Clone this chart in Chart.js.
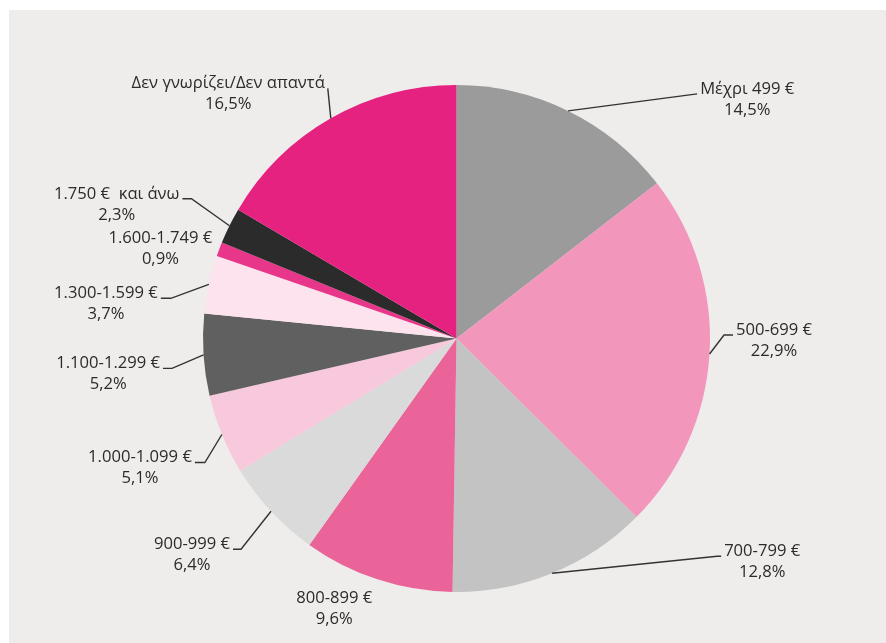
<!DOCTYPE html>
<html>
<head>
<meta charset="utf-8">
<script src="https://cdn.jsdelivr.net/npm/chart.js@4/dist/chart.umd.min.js"></script>
<style>
  html, body { margin: 0; padding: 0; background: #ffffff; }
  #wrap { width: 886px; height: 643px; position: relative; }
  canvas { display: block; }
</style>
</head>
<body>
<div id="wrap"><canvas id="c" width="886" height="643"></canvas></div>
<script>
// ---- Data ----
const categories = [
  'Μέχρι 499 €',
  '500-699 €',
  '700-799 €',
  '800-899 €',
  '900-999 €',
  '1.000-1.099 €',
  '1.100-1.299 €',
  '1.300-1.599 €',
  '1.600-1.749 €',
  '1.750 €  και άνω',
  'Δεν γνωρίζει/Δεν απαντά'
];
const shares = [14.5, 22.9, 12.8, 9.6, 6.4, 5.1, 5.2, 3.7, 0.9, 2.3, 16.5];
const shareLabels = ['14,5%', '22,9%', '12,8%', '9,6%', '6,4%', '5,1%', '5,2%', '3,7%', '0,9%', '2,3%', '16,5%'];

// ---- Styles ----
const sliceColors = ['#9b9b9b', '#f296bc', '#c3c3c3', '#ea6399', '#dadada', '#f8c8dc',
                     '#606060', '#fde3ee', '#e8378a', '#2b2b2b', '#e5227f'];
// label placement relative to the slice's outer mid-point: [dx, dy, side, leader, elbow]
const labelLayout = [
  [129, -17, 'right', true, 0],
  [23.5, -19, 'right', true, 9],
  [169, -17, 'right', true, 4],
  [-2, 24, 'left', false, 0],
  [-38, 38, 'left', true, 8],
  [-27, 28, 'left', true, 10],
  [-40.5, 13.5, 'left', true, 9],
  [-48, 14, 'left', true, 10],
  [-4, -6, 'left', false, 0],
  [-47, -27, 'left', true, 9],
  [-3, -30, 'left', true, 0]
];

const bgPlugin = {
  id: 'bg',
  beforeDraw(chart) {
    const ctx = chart.ctx;
    ctx.save();
    ctx.fillStyle = '#ffffff';
    ctx.fillRect(0, 0, chart.width, chart.height);
    ctx.fillStyle = '#eeedeb';
    ctx.fillRect(9, 10, chart.width - 9, chart.height - 10);
    ctx.restore();
  }
};

const labelPlugin = {
  id: 'outLabels',
  afterDatasetsDraw(chart) {
    const ctx = chart.ctx;
    const meta = chart.getDatasetMeta(0);
    ctx.save();
    ctx.font = '16.6px "Open Sans", sans-serif';
    ctx.fillStyle = '#2b2b2b';
    ctx.strokeStyle = '#333333';
    ctx.lineWidth = 1.4;
    ctx.textBaseline = 'middle';
    meta.data.forEach((arc, i) => {
      const p = arc.getProps(['x', 'y', 'startAngle', 'endAngle', 'outerRadius'], true);
      const mid = (p.startAngle + p.endAngle) / 2;
      const ex = p.x + Math.cos(mid) * p.outerRadius;
      const ey = p.y + Math.sin(mid) * p.outerRadius;
      const [dx, dy, side, leader, elbow] = labelLayout[i];
      const endX = ex + dx, endY = ey + dy;
      if (leader) {
        ctx.beginPath();
        ctx.moveTo(ex, ey);
        const elbowX = side === 'left' ? endX + elbow : endX - elbow;
        ctx.lineTo(elbowX, endY);
        ctx.lineTo(endX, endY);
        ctx.stroke();
      }
      const line1 = categories[i];
      const w1 = ctx.measureText(line1).width;
      let cx;
      if (side === 'left') cx = endX - 3 - w1 / 2;
      else cx = endX + 3 + w1 / 2;
      const ty = endY - 5;
      ctx.textAlign = 'center';
      ctx.fillText(line1, cx, ty);
      ctx.fillText(shareLabels[i], cx, ty + 21);
    });
    ctx.restore();
  }
};

new Chart(document.getElementById('c'), {
  type: 'pie',
  data: {
    labels: categories,
    datasets: [{
      data: shares,
      backgroundColor: sliceColors,
      borderWidth: 0
    }]
  },
  options: {
    responsive: false,
    animation: false,
    layout: { padding: { top: 85, bottom: 51, left: 127, right: 100 } },
    plugins: {
      legend: { display: false },
      tooltip: { enabled: false }
    }
  },
  plugins: [bgPlugin, labelPlugin]
});
</script>
</body>
</html>
